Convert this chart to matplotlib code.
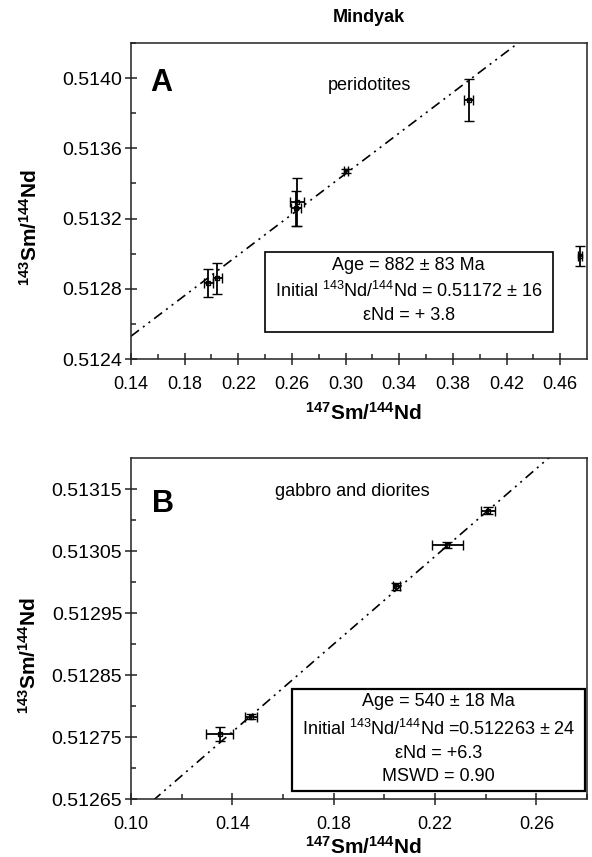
import numpy as np
import matplotlib
matplotlib.use("Agg")
import matplotlib.pyplot as plt

plt.rcParams['font.family'] = 'Liberation Sans'
plt.rcParams['mathtext.fontset'] = 'custom'
plt.rcParams['mathtext.rm'] = 'Liberation Sans'
plt.rcParams['mathtext.it'] = 'Liberation Sans:italic'
plt.rcParams['mathtext.bf'] = 'Liberation Sans:bold'

# decay constant of 147Sm (1/yr)
LAMBDA = 6.54e-12

# Panel A: peridotites
a_x = [0.1976, 0.2044, 0.2637, 0.2630, 0.3000, 0.3917, 0.4745]
a_y = [0.512834, 0.512861, 0.513295, 0.513258, 0.513471, 0.513876, 0.512987]
a_xerr = [0.0033, 0.0033, 0.0052, 0.0035, 0.0015, 0.0033, 0.0015]
a_yerr = [0.000081, 0.000088, 0.000138, 0.000100, 0.000012, 0.000118, 0.000055]
a_age = 882
a_init = 0.51172

# Panel B: gabbro and diorites
b_x = [0.1350, 0.1474, 0.2048, 0.2249, 0.2409]
b_y = [0.512755, 0.512783, 0.512993, 0.513060, 0.513115]
b_xerr = [0.0054, 0.0024, 0.0012, 0.0060, 0.0026]
b_yerr = [0.000011, 0.000004, 0.000006, 0.000005, 0.000006]
b_age = 540
b_init = 0.512263

a_xticks = [0.14, 0.18, 0.22, 0.26, 0.30, 0.34, 0.38, 0.42, 0.46]
a_yticks = [0.5124, 0.5128, 0.5132, 0.5136, 0.5140]
b_xticks = [0.10, 0.14, 0.18, 0.22, 0.26]
b_yticks = [0.51265, 0.51275, 0.51285, 0.51295, 0.51305, 0.51315]

a_box = ['Age = 882 ± 83 Ma',
         r'Initial $^{143}$Nd/$^{144}$Nd = 0.51172 ± 16',
         'εNd = + 3.8']
b_box = ['Age = 540 ± 18 Ma',
         r'Initial $^{143}$Nd/$^{144}$Nd =0.512263 ± 24',
         'εNd = +6.3',
         'MSWD = 0.90']

W, H = 592, 857
fig = plt.figure(figsize=(W / 100, H / 100), dpi=100)


def px_axes(l, t, r, b):
    return fig.add_axes([l / W, 1 - b / H, (r - l) / W, (b - t) / H])


axA = px_axes(131, 43, 587, 359)
axB = px_axes(131, 458, 587, 799)

lw = 1.1
ylab = r'$\mathbf{^{143}Sm/^{144}Nd}$'
xlab = r'$\mathbf{^{147}Sm/^{144}Nd}$'


def style(ax, xlim, ylim, xticks, yticks, xfmt, yfmt, xminor, yminor):
    ax.set_xlim(xlim)
    ax.set_ylim(ylim)
    ax.set_xticks(xticks)
    ax.set_yticks(yticks)
    ax.set_xticklabels([xfmt.format(v) for v in xticks], fontsize=13)
    ax.set_yticklabels([yfmt.format(v) for v in yticks], fontsize=14)
    ax.set_xticks(xminor, minor=True)
    ax.set_yticks(yminor, minor=True)
    ax.tick_params(which='major', direction='inout', length=8.5, width=lw,
                   color='#222222')
    ax.tick_params(axis='x', which='major', pad=8)
    ax.tick_params(axis='y', which='major', pad=2)
    ax.tick_params(which='minor', direction='in', length=3.5, width=lw,
                   color='#222222')
    for s in ax.spines.values():
        s.set_linewidth(lw)
        s.set_color('#222222')


style(axA, (0.14, 0.48), (0.5124, 0.5142), a_xticks, a_yticks, '{:.2f}', '{:.4f}',
      np.arange(0.16, 0.48, 0.04), np.arange(0.5126, 0.5142, 0.0004))
style(axB, (0.10, 0.28), (0.51265, 0.5132), b_xticks, b_yticks, '{:.2f}', '{:.5f}',
      np.arange(0.12, 0.28, 0.04), np.arange(0.51270, 0.51320, 0.0001))

dash = (0, (6, 3, 1.2, 3, 1.2, 3))
for ax, xs, ys, xe, ye, age, init in [
        (axA, a_x, a_y, a_xerr, a_yerr, a_age, a_init),
        (axB, b_x, b_y, b_xerr, b_yerr, b_age, b_init)]:
    slope = np.expm1(LAMBDA * age * 1e6)
    lx = np.array(ax.get_xlim())
    ax.plot(lx, init + slope * lx, color='black', lw=1.2, linestyle=dash, zorder=2)
    ax.errorbar(xs, ys, xerr=xe, yerr=ye, fmt='s', ms=3.5, mfc='none', mec='black',
                mew=1.0, ecolor='black', elinewidth=1.3, capsize=3.6, capthick=1.3,
                zorder=3)

# panel A annotations
axA.text(0.042, 0.849, 'A', transform=axA.transAxes, fontsize=22, fontweight='bold',
         va='baseline', ha='left')
axA.text(0.523, 0.867, 'peridotites', transform=axA.transAxes, fontsize=13,
         ha='center', va='center')
axA.add_patch(plt.Rectangle((0.294, 0.0864), 0.631, 0.2513, transform=axA.transAxes,
                            fill=True, facecolor='white', edgecolor='black', lw=1.2,
                            zorder=4))
for line, yy in zip(a_box, [0.295, 0.215, 0.139]):
    axA.text(0.609, yy, line, transform=axA.transAxes, fontsize=13, ha='center',
             va='center', zorder=5)
axA.set_ylabel(ylab, fontsize=15)
axA.yaxis.set_label_coords(-0.198, 0.415)
axA.set_xlabel(xlab, fontsize=15)
axA.xaxis.set_label_coords(0.509, -0.136)

# panel B annotations
axB.text(0.046, 0.8425, 'B', transform=axB.transAxes, fontsize=22, fontweight='bold',
         va='baseline', ha='left')
axB.text(0.486, 0.901, 'gabbro and diorites', transform=axB.transAxes, fontsize=13,
         ha='center', va='center')
axB.add_patch(plt.Rectangle((0.353, 0.0243), 0.642, 0.2983, transform=axB.transAxes,
                            fill=True, facecolor='white', edgecolor='black', lw=1.6,
                            zorder=4))
for line, yy in zip(b_box, [0.2845, 0.2045, 0.1334, 0.0648]):
    axB.text(0.674, yy, line, transform=axB.transAxes, fontsize=13, ha='center',
             va='center', zorder=5)
axB.set_ylabel(ylab, fontsize=15)
axB.yaxis.set_label_coords(-0.200, 0.422)
axB.set_xlabel(xlab, fontsize=15)
axB.xaxis.set_label_coords(0.509, -0.108)

fig.text(369 / W, 1 - 17 / H, 'Mindyak', fontsize=13, fontweight='bold',
         ha='center', va='center')

fig.savefig('out.png', dpi=100, facecolor='white')
